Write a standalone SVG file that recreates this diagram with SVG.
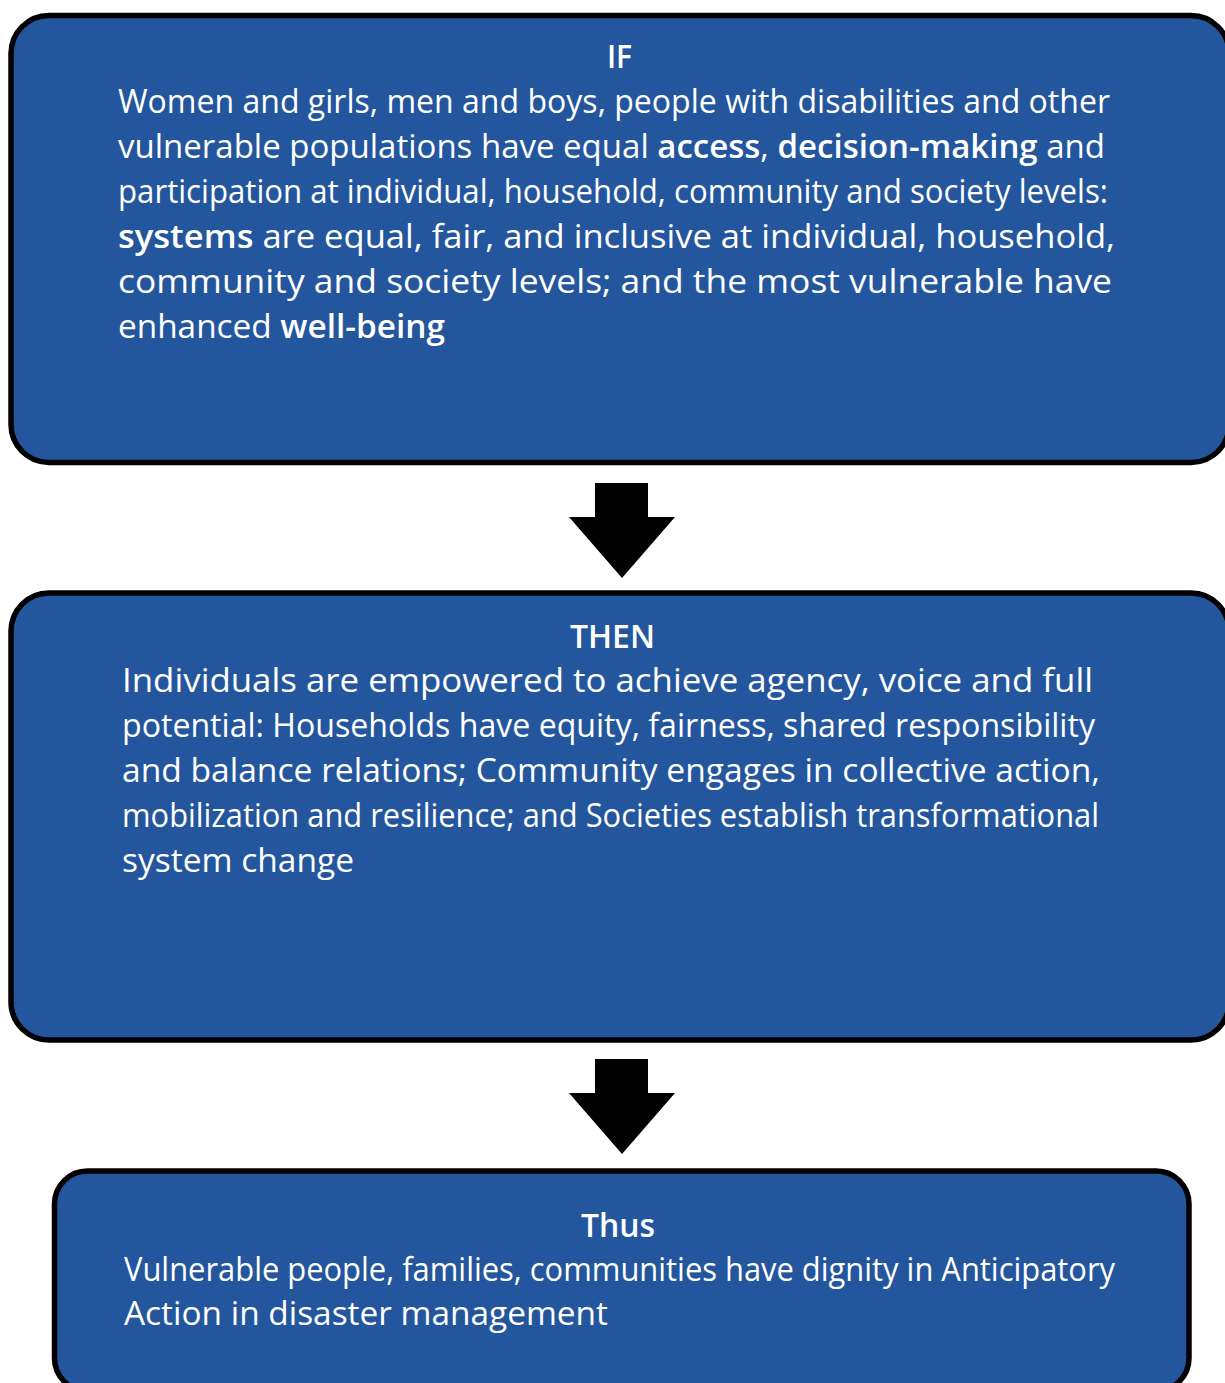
<svg xmlns="http://www.w3.org/2000/svg" width="1225" height="1383" viewBox="0 0 1225 1383">
  <style>
    .box { fill: #24569d; stroke: #000; stroke-width: 5.5; }
    .body { font-family: "Open Sans", "Noto Sans", sans-serif; font-size: 33px; fill: #fff; }
    .head { font-family: "Open Sans", "Noto Sans", sans-serif; font-size: 33px; font-weight: 600; fill: #fff; }
    .b { font-weight: 600; }
    .arrow { fill: #000; }
  </style>
  <rect width="1225" height="1383" fill="#fff"/>

  <!-- IF box -->
  <g id="node-if">
    <rect class="box" x="11" y="15.5" width="1218" height="447" rx="38"/>
    <text class="head" x="607" y="68" textLength="25" lengthAdjust="spacingAndGlyphs">IF</text>
    <text class="body" x="118" y="113" textLength="992" lengthAdjust="spacingAndGlyphs">Women and girls, men and boys, people with disabilities and other</text>
    <text class="body" x="118" y="158" textLength="987" lengthAdjust="spacingAndGlyphs">vulnerable populations have equal <tspan class="b">access</tspan>, <tspan class="b">decision-making</tspan> and</text>
    <text class="body" x="118" y="203" textLength="990" lengthAdjust="spacingAndGlyphs">participation at individual, household, community and society levels:</text>
    <text class="body" x="118" y="248" textLength="997" lengthAdjust="spacingAndGlyphs"><tspan class="b">systems</tspan> are equal, fair, and inclusive at individual, household,</text>
    <text class="body" x="118" y="293" textLength="994" lengthAdjust="spacingAndGlyphs">community and society levels; and the most vulnerable have</text>
    <text class="body" x="118" y="338" textLength="327" lengthAdjust="spacingAndGlyphs">enhanced <tspan class="b">well-being</tspan></text>
  </g>

  <!-- THEN box -->
  <g id="node-then">
    <rect class="box" x="11" y="593" width="1218" height="447" rx="38"/>
    <text class="head" x="570" y="648" textLength="85" lengthAdjust="spacingAndGlyphs">THEN</text>
    <text class="body" x="122" y="692" textLength="971" lengthAdjust="spacingAndGlyphs">Individuals are empowered to achieve agency, voice and full</text>
    <text class="body" x="122" y="737" textLength="973" lengthAdjust="spacingAndGlyphs">potential: Households have equity, fairness, shared responsibility</text>
    <text class="body" x="122" y="782" textLength="978" lengthAdjust="spacingAndGlyphs">and balance relations; Community engages in collective action,</text>
    <text class="body" x="122" y="827" textLength="977" lengthAdjust="spacingAndGlyphs">mobilization and resilience; and Societies establish transformational</text>
    <text class="body" x="122" y="872" textLength="232" lengthAdjust="spacingAndGlyphs">system change</text>
  </g>

  <!-- Thus box -->
  <g id="node-thus">
    <rect class="box" x="54.5" y="1171" width="1134.5" height="220" rx="33"/>
    <text class="head" x="581" y="1237" textLength="74" lengthAdjust="spacingAndGlyphs">Thus</text>
    <text class="body" x="124" y="1281" textLength="991" lengthAdjust="spacingAndGlyphs">Vulnerable people, families, communities have dignity in Anticipatory</text>
    <text class="body" x="124" y="1325" textLength="484" lengthAdjust="spacingAndGlyphs">Action in disaster management</text>
  </g>

  <!-- block arrows between the stages -->
  <g id="connectors">
    <polygon class="arrow" points="595,483 648,483 648,517 675,517 622,578 569,517 595,517"/>
    <polygon class="arrow" points="595,1059 648,1059 648,1093 675,1093 622,1154 569,1093 595,1093"/>
  </g>
</svg>
